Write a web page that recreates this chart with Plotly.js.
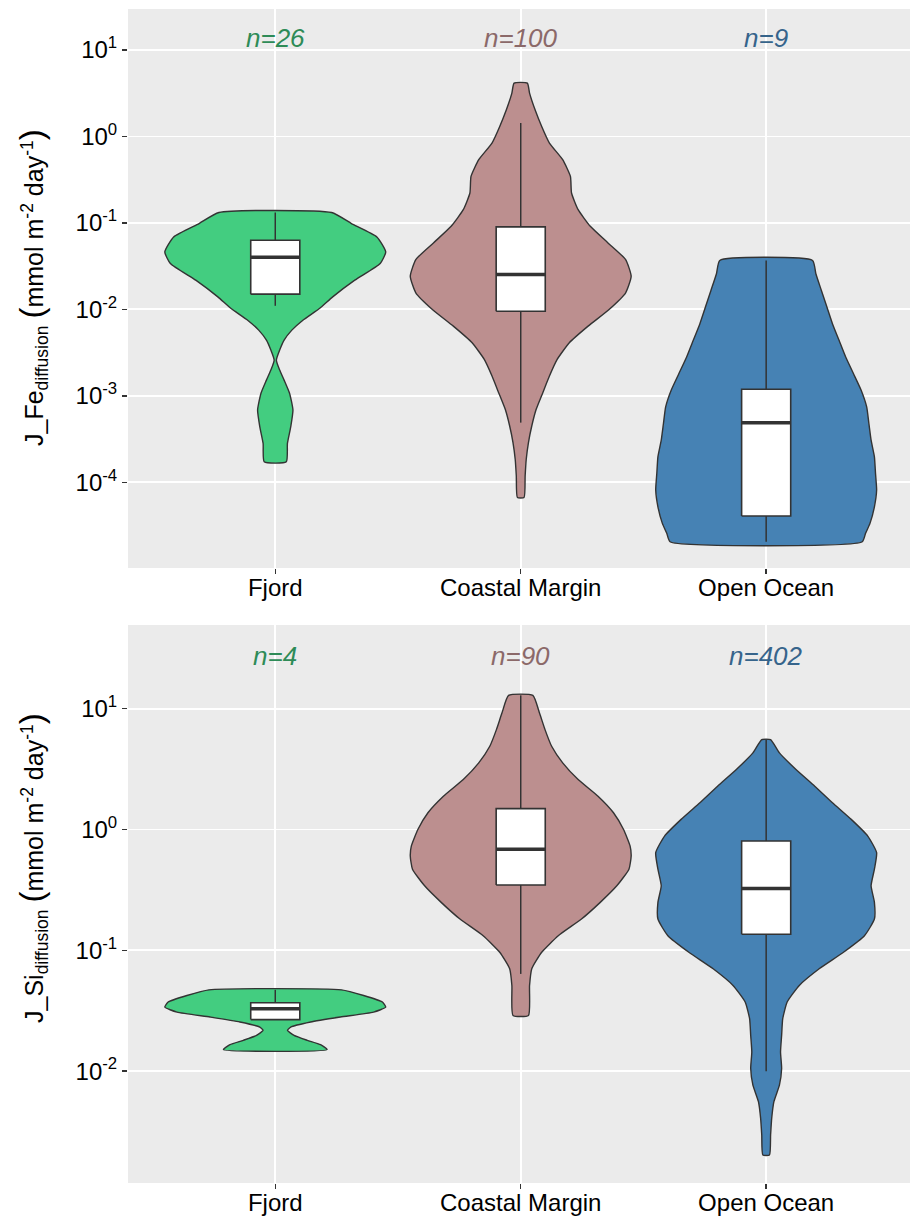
<!DOCTYPE html>
<html>
<head>
<meta charset="utf-8">
<script src="https://cdn.plot.ly/plotly-3.0.1.min.js"></script>
<style>
  html, body { margin: 0; padding: 0; background: #ffffff; }
  #chart { width: 910px; height: 1218px; }
</style>
</head>
<body>
<div id="chart"></div>
<script>
// ---------------- DATA ----------------
const categories = ['Fjord', 'Coastal Margin', 'Open Ocean'];
const fillColors = ['#43CD80', '#BC8F8F', '#4682B4'];
const countColors = ['#2E8B57', '#8B6969', '#36648B'];
const feCounts = ['n=26', 'n=100', 'n=9'];
const siCounts = ['n=4', 'n=90', 'n=402'];

const yTickVals = [1e-4, 1e-3, 1e-2, 1e-1, 1, 10];
const yTickText = ['10<sup>-4</sup>', '10<sup>-3</sup>', '10<sup>-2</sup>', '10<sup>-1</sup>', '10<sup>0</sup>', '10<sup>1</sup>'];

// Violin density profiles (log10 of value, top to bottom) and relative density width (max = 1)
// --- Fe panel ---
const feFjordLog10 = [-0.880, -1.007, -1.162, -1.335, -1.469, -1.662, -1.855, -1.990, -2.125, -2.240, -2.356, -2.471, -2.587, -2.702, -2.818, -2.972, -3.165, -3.358, -3.550, -3.763];
const feFjordDensity = [0.51, 0.69, 0.92, 1.00, 0.95, 0.72, 0.52, 0.40, 0.25, 0.15, 0.08, 0.04, 0.01, 0.04, 0.08, 0.13, 0.16, 0.14, 0.11, 0.10];

const feCoastLog10 = [0.617, 0.501, 0.308, 0.115, -0.077, -0.269, -0.462, -0.654, -0.847, -1.039, -1.231, -1.424, -1.617, -1.808, -2.001, -2.194, -2.386, -2.579, -2.771, -2.963, -3.156, -3.349, -3.540, -3.733, -3.926, -4.176];
const feCoastDensity = [0.06, 0.08, 0.13, 0.19, 0.26, 0.38, 0.45, 0.46, 0.52, 0.63, 0.79, 0.95, 1.00, 0.95, 0.80, 0.61, 0.44, 0.33, 0.26, 0.20, 0.14, 0.10, 0.07, 0.05, 0.04, 0.03];

const feOceanLog10 = [-1.434, -1.588, -1.781, -1.973, -2.165, -2.358, -2.551, -2.742, -2.935, -3.128, -3.320, -3.513, -3.705, -3.897, -4.090, -4.283, -4.475, -4.590, -4.687];
const feOceanDensity = [0.42, 0.45, 0.50, 0.55, 0.60, 0.66, 0.72, 0.79, 0.86, 0.91, 0.93, 0.95, 0.98, 0.99, 1.00, 0.98, 0.94, 0.90, 0.87];

// --- Si panel ---
const siFjordLog10 = [-1.327, -1.374, -1.428, -1.470, -1.511, -1.552, -1.593, -1.635, -1.662, -1.704, -1.745, -1.781, -1.822];
const siFjordDensity = [0.60, 0.80, 0.97, 1.00, 0.89, 0.59, 0.32, 0.14, 0.11, 0.17, 0.29, 0.41, 0.47];

const siCoastLog10 = [1.110, 0.964, 0.827, 0.689, 0.552, 0.414, 0.276, 0.139, 0.002, -0.136, -0.219, -0.328, -0.466, -0.603, -0.741, -0.879, -1.016, -1.153, -1.291, -1.539];
const siCoastDensity = [0.11, 0.17, 0.22, 0.28, 0.38, 0.52, 0.70, 0.84, 0.93, 0.99, 1.00, 0.98, 0.87, 0.72, 0.55, 0.34, 0.19, 0.10, 0.08, 0.07];

const siOceanLog10 = [0.744, 0.634, 0.497, 0.359, 0.222, 0.084, -0.054, -0.191, -0.328, -0.466, -0.603, -0.741, -0.879, -1.016, -1.153, -1.291, -1.428, -1.566, -1.704, -1.841, -1.979, -2.116, -2.253, -2.391, -2.529, -2.694];
const siOceanDensity = [0.04, 0.12, 0.27, 0.44, 0.60, 0.77, 0.92, 1.00, 0.98, 0.95, 0.98, 0.98, 0.89, 0.70, 0.48, 0.30, 0.19, 0.15, 0.14, 0.13, 0.14, 0.12, 0.07, 0.05, 0.04, 0.03];

// Box-plot statistics (Fjord, Coastal Margin, Open Ocean)
const feLower  = [0.011, 0.00049, 2.05e-5];
const feQ1     = [0.015, 0.0095, 4.07e-5];
const feMedian = [0.040, 0.0253, 0.000487];
const feQ3     = [0.063, 0.090, 0.00119];
const feUpper  = [0.132, 1.43, 0.0368];

const siLower  = [0.0267, 0.0638, 0.0100];
const siQ1     = [0.0267, 0.347, 0.136];
const siMedian = [0.0329, 0.687, 0.325];
const siQ3     = [0.0368, 1.49, 0.804];
const siUpper  = [0.0471, 12.9, 5.55];

// ---------------- BUILD ----------------
const OUTLINE = '#333333';
const FONT = 'Liberation Sans, Arial, sans-serif';
const HALF = 0.45;   // max violin half width (x units)
const BOXW = 0.2;

function violinTrace(pos, logs, dens, color, xa, ya) {
  const xs = [], ys = [];
  for (let i = 0; i < logs.length; i++) { xs.push(pos + HALF * dens[i]); ys.push(Math.pow(10, logs[i])); }
  for (let i = logs.length - 1; i >= 0; i--) { xs.push(pos - HALF * dens[i]); ys.push(Math.pow(10, logs[i])); }
  xs.push(xs[0]); ys.push(ys[0]);
  return {
    type: 'scatter', mode: 'lines', x: xs, y: ys, xaxis: xa, yaxis: ya,
    fill: 'toself', fillcolor: color,
    line: { color: OUTLINE, width: 1.4, shape: 'spline', smoothing: 0.5 },
    hoverinfo: 'skip', showlegend: false
  };
}

function whiskerTrace(pos, lo, q1, q3, hi, xa, ya) {
  return {
    type: 'scatter', mode: 'lines', x: [pos, pos, null, pos, pos], y: [q3, hi, null, q1, lo],
    xaxis: xa, yaxis: ya, line: { color: OUTLINE, width: 1.5 },
    hoverinfo: 'skip', showlegend: false
  };
}

function boxTrace(pos, q1, q3, xa, ya) {
  const l = pos - BOXW / 2, r = pos + BOXW / 2;
  return {
    type: 'scatter', mode: 'lines', x: [l, r, r, l, l], y: [q1, q1, q3, q3, q1],
    xaxis: xa, yaxis: ya, fill: 'toself', fillcolor: '#ffffff',
    line: { color: OUTLINE, width: 1.6 },
    hoverinfo: 'skip', showlegend: false
  };
}

function medianTrace(pos, med, xa, ya) {
  return {
    type: 'scatter', mode: 'lines', x: [pos - BOXW / 2, pos + BOXW / 2], y: [med, med],
    xaxis: xa, yaxis: ya, line: { color: OUTLINE, width: 3.5 },
    hoverinfo: 'skip', showlegend: false
  };
}

const traces = [];
const feProfiles = [[feFjordLog10, feFjordDensity], [feCoastLog10, feCoastDensity], [feOceanLog10, feOceanDensity]];
const siProfiles = [[siFjordLog10, siFjordDensity], [siCoastLog10, siCoastDensity], [siOceanLog10, siOceanDensity]];

function addPanel(profiles, lower, q1, med, q3, upper, xa, ya) {
  for (let i = 0; i < 3; i++) {
    traces.push(violinTrace(i, profiles[i][0], profiles[i][1], fillColors[i], xa, ya));
  }
  for (let i = 0; i < 3; i++) {
    traces.push(whiskerTrace(i, lower[i], q1[i], q3[i], upper[i], xa, ya));
    traces.push(boxTrace(i, q1[i], q3[i], xa, ya));
    traces.push(medianTrace(i, med[i], xa, ya));
  }
}
addPanel(feProfiles, feLower, feQ1, feMedian, feQ3, feUpper, 'x', 'y');
addPanel(siProfiles, siLower, siQ1, siMedian, siQ3, siUpper, 'x2', 'y2');

const W = 910, H = 1218;
const BOTTOM = 1183;
const M = { l: 128, r: 0, t: 9, b: H - BOTTOM };
const plotH = H - M.t - M.b;
const plotW = W - M.l - M.r;
const topDomain = [(BOTTOM - 568) / plotH, 1];
const botDomain = [0, (BOTTOM - 625) / plotH];

function xAxis(anchor) {
  return {
    anchor: anchor, domain: [0, 1], range: [-0.6, 2.586], type: 'linear',
    tickmode: 'array', tickvals: [0, 1, 2], ticktext: categories,
    showgrid: true, gridcolor: '#ffffff', gridwidth: 1.8,
    zeroline: false, showline: false,
    ticks: 'outside', ticklen: 5, tickwidth: 1.5, tickcolor: OUTLINE,
    ticklabelstandoff: -7,
    tickfont: { family: FONT, size: 24, color: '#000000' }, fixedrange: true
  };
}
function yAxis(anchor, domain, range) {
  return {
    anchor: anchor, domain: domain, type: 'log', range: range,
    tickmode: 'array', tickvals: yTickVals, ticktext: yTickText,
    showgrid: true, gridcolor: '#ffffff', gridwidth: 1.8,
    zeroline: false, showline: false,
    ticks: 'outside', ticklen: 5, tickwidth: 1.5, tickcolor: OUTLINE,
    tickfont: { family: FONT, size: 24, color: '#000000' }, fixedrange: true
  };
}

const annotations = [];
for (let i = 0; i < 3; i++) {
  annotations.push({ xref: 'x', yref: 'y', x: i, y: 1.14, text: feCounts[i], showarrow: false,
    font: { family: FONT, size: 26, color: countColors[i], style: 'italic' }, xanchor: 'center', yanchor: 'middle' });
  annotations.push({ xref: 'x2', yref: 'y2', x: i, y: 1.44, text: siCounts[i], showarrow: false,
    font: { family: FONT, size: 26, color: countColors[i], style: 'italic' }, xanchor: 'center', yanchor: 'middle' });
}
const bigParen = (c) => '<span style="font-size:33px">' + c + '</span>';
annotations.push({
  xref: 'paper', yref: 'paper', x: (32 - M.l) / plotW, y: (BOTTOM - 288) / plotH,
  text: 'J_Fe<sub>diffusion</sub> ' + bigParen('(') + 'mmol m<sup>-2</sup> day<sup>-1</sup>' + bigParen(')'),
  textangle: -90, showarrow: false, xanchor: 'center', yanchor: 'middle',
  font: { family: FONT, size: 25, color: '#000000' }
});
annotations.push({
  xref: 'paper', yref: 'paper', x: (32 - M.l) / plotW, y: (BOTTOM - 868) / plotH,
  text: 'J_Si<sub>diffusion</sub> ' + bigParen('(') + 'mmol m<sup>-2</sup> day<sup>-1</sup>' + bigParen(')'),
  textangle: -90, showarrow: false, xanchor: 'center', yanchor: 'middle',
  font: { family: FONT, size: 25, color: '#000000' }
});

const layout = {
  width: W, height: H, margin: M,
  paper_bgcolor: '#ffffff', plot_bgcolor: '#EBEBEB',
  showlegend: false, hovermode: false,
  font: { family: FONT, color: '#000000' },
  xaxis: xAxis('y'),
  yaxis: yAxis('x', topDomain, [-4.991, 1.474]),
  xaxis2: xAxis('y2'),
  yaxis2: yAxis('x2', botDomain, [-2.926, 1.693]),
  annotations: annotations
};

Plotly.newPlot('chart', traces, layout, { staticPlot: true, displayModeBar: false });
</script>
</body>
</html>
